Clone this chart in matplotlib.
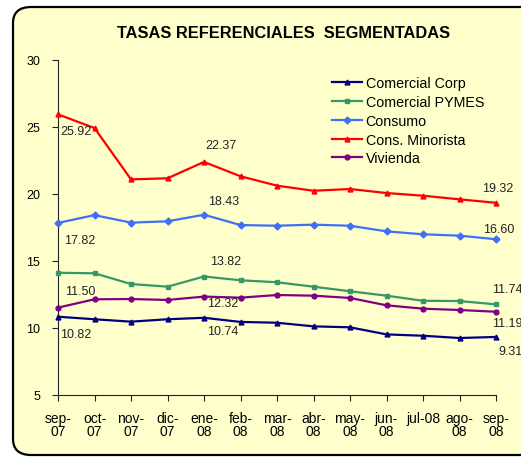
import matplotlib
matplotlib.use('Agg')
import matplotlib.pyplot as plt
from matplotlib.patches import FancyBboxPatch

plt.rcParams['font.family'] = ['Liberation Sans', 'DejaVu Sans']

months = ['sep-\n07', 'oct-\n07', 'nov-\n07', 'dic-\n07', 'ene-\n08', 'feb-\n08', 'mar-\n08',
          'abr-\n08', 'may-\n08', 'jun-\n08', 'jul-08', 'ago-\n08', 'sep-\n08']

comercial_corp = [10.82, 10.63, 10.45, 10.63, 10.74, 10.43, 10.37, 10.10, 10.03, 9.50, 9.40, 9.23, 9.31]
comercial_pymes = [14.10, 14.06, 13.26, 13.06, 13.82, 13.54, 13.39, 13.06, 12.72, 12.39, 12.01, 11.99, 11.74]
consumo = [17.82, 18.40, 17.84, 17.94, 18.43, 17.66, 17.61, 17.69, 17.61, 17.19, 16.97, 16.87, 16.60]
cons_minorista = [25.92, 24.90, 21.07, 21.15, 22.37, 21.30, 20.60, 20.22, 20.35, 20.05, 19.85, 19.58, 19.32]
vivienda = [11.50, 12.12, 12.14, 12.07, 12.32, 12.24, 12.44, 12.39, 12.22, 11.67, 11.42, 11.32, 11.19]

series = [
    ('Comercial Corp', comercial_corp, '#000080', '^'),
    ('Comercial PYMES', comercial_pymes, '#339966', 's'),
    ('Consumo', consumo, '#3f6ff5', 'D'),
    ('Cons. Minorista', cons_minorista, '#ff0000', '^'),
    ('Vivienda', vivienda, '#800080', 'o'),
]

# which points get a value label, and where (pixel offsets from the point)
labelled = {
    'Comercial Corp': [(0, 2, -17), (4, 3, -13), (12, 2, -14)],
    'Comercial PYMES': [(4, 6, 16), (12, -4, 15)],
    'Consumo': [(0, 6, -17), (4, 4, 14), (12, -13, 10)],
    'Cons. Minorista': [(0, 2, -17), (4, 1, 17), (12, -14, 15)],
    'Vivienda': [(0, 7, 17), (4, 3, -6), (12, -4, -11)],
}

fig = plt.figure(figsize=(5.21, 4.60), dpi=100)
fig.patch.set_facecolor('white')

frame = FancyBboxPatch((13 / 521, 4 / 460), 530 / 521, 448 / 460,
                       boxstyle='round,pad=0,rounding_size=0.035',
                       transform=fig.transFigure, facecolor='#ffffcc',
                       edgecolor='black', linewidth=1.6, zorder=-5)
fig.patches.append(frame)

ax = fig.add_axes([58 / 521, 1 - 395.7 / 460, (496 - 58) / 521, (395.7 - 60.7) / 460])
ax.set_facecolor('none')
ax.set_zorder(2)

x = list(range(len(months)))
for name, vals, color, marker in series:
    ax.plot(x, vals, color=color, linewidth=1.6, marker=marker, markersize=3.5,
            label=name, clip_on=False, zorder=3)
    for i, dx, dy in labelled[name]:
        ax.annotate(f'{vals[i]:.2f}', (x[i], vals[i]), xytext=(dx * 0.72, dy * 0.72),
                    textcoords='offset points', ha='left', va='center',
                    fontsize=9, color='#222222', annotation_clip=False)

ax.set_xlim(0, 12)
ax.set_ylim(5, 30)
ax.set_yticks([5, 10, 15, 20, 25, 30])
ax.set_xticks(x)
ax.set_xticklabels(months, linespacing=0.9)
for s in ['top', 'right']:
    ax.spines[s].set_visible(False)
ax.spines['left'].set_color('#222222')
ax.spines['bottom'].set_color('#222222')
ax.tick_params(axis='y', direction='out', length=4, pad=9, labelsize=9, color='#222222')
ax.tick_params(axis='x', direction='out', length=4, pad=8, labelsize=10, color='#222222')

fig.text(284 / 521, 1 - 33 / 460, 'TASAS REFERENCIALES  SEGMENTADAS', ha='center', va='center',
         fontsize=11.8, fontweight='bold')

fig.legend(loc='upper left', bbox_to_anchor=(332 / 521, 1 - 77 / 460), frameon=False,
           fontsize=10.3, handlelength=2.1, handletextpad=0.25, labelspacing=0.34,
           borderpad=0, borderaxespad=0)

fig.savefig('out.png', dpi=100)
